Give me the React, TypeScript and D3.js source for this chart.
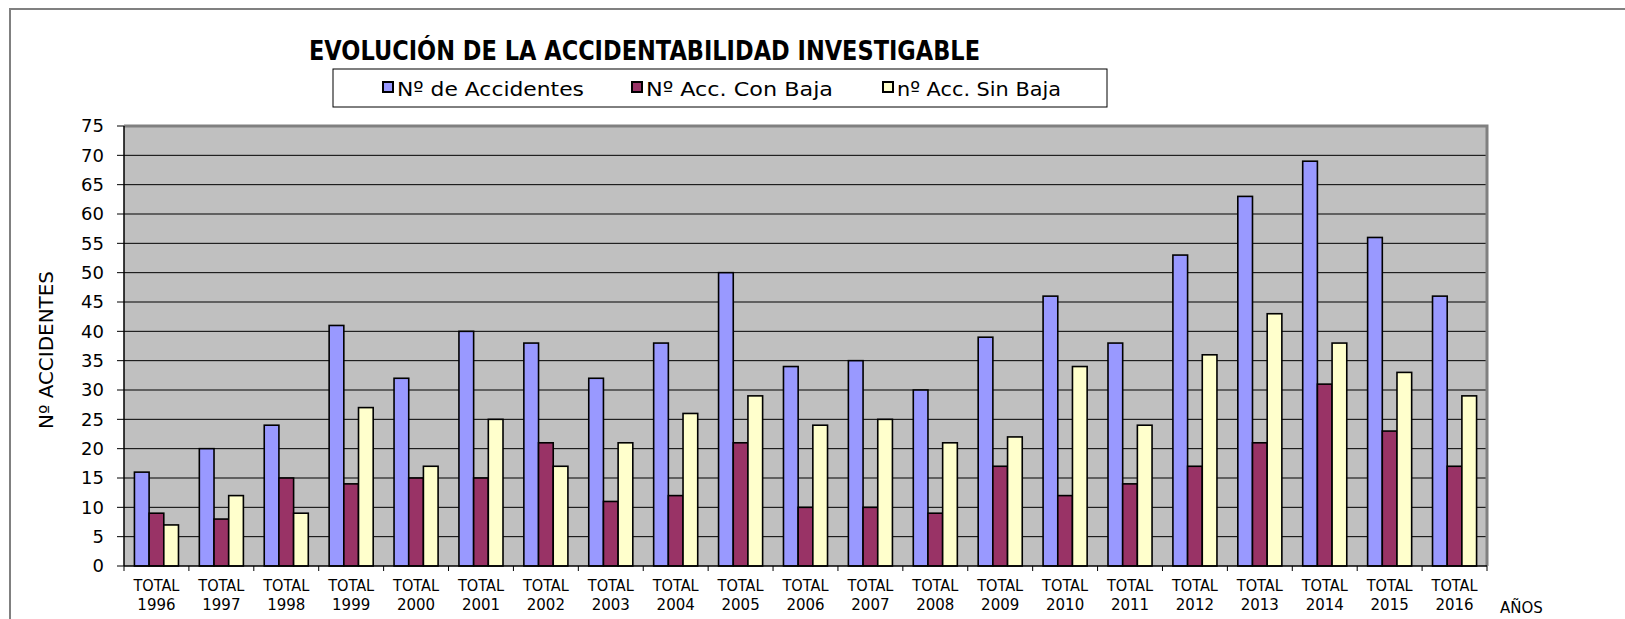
import { scaleBand, scaleLinear, range } from "d3";

const W = 1625;
const H = 619;

const years = ["1996", "1997", "1998", "1999", "2000", "2001", "2002", "2003", "2004", "2005", "2006", "2007", "2008", "2009", "2010", "2011", "2012", "2013", "2014", "2015", "2016"];
const accidentes = [16, 20, 24, 41, 32, 40, 38, 32, 38, 50, 34, 35, 30, 39, 46, 38, 53, 63, 69, 56, 46];
const conBaja = [9, 8, 15, 14, 15, 15, 21, 11, 12, 21, 10, 10, 9, 17, 12, 14, 17, 21, 31, 23, 17];
const sinBaja = [7, 12, 9, 27, 17, 25, 17, 21, 26, 29, 24, 25, 21, 22, 34, 24, 36, 43, 38, 33, 29];

const seriesNames = ["Nº de Accidentes", "Nº Acc. Con Baja", "nº Acc. Sin Baja"];
const seriesColors = ["#9999FF", "#993366", "#FFFFCC"];
const yTicks = range(0, 80, 5);

const PLOT = { left: 124, right: 1487, top: 126, bottom: 566 };
const FONT = "'DejaVu Sans', Lato, sans-serif";

export default function App() {
  const series = [accidentes, conBaja, sinBaja];

  const xScale = scaleBand<string>().domain(years).range([PLOT.left, PLOT.right]).padding(0);
  const inner = scaleBand<number>()
    .domain([0, 1, 2])
    .range([0, xScale.bandwidth()])
    .paddingInner(0)
    .paddingOuter(0.71);
  const yScale = scaleLinear().domain([0, 75]).range([PLOT.bottom, PLOT.top]);

  const legendX = [388, 637, 888];
  const legendLen = [187, 187, 164];

  return (
    <svg
      width={W}
      height={H}
      viewBox={`0 0 ${W} ${H}`}
      style={{ position: "absolute", left: 0, top: 0, background: "#fff" }}
      fontFamily={FONT}
    >
      {/* outer chart frame */}
      <rect x={10} y={9} width={W + 20} height={H + 20} fill="#fff" stroke="#808080" strokeWidth={2} />

      <text x={309} y={60} fontSize={26} fontWeight={700} textLength={671} lengthAdjust="spacingAndGlyphs" fill="#000">
        EVOLUCIÓN DE LA ACCIDENTABILIDAD INVESTIGABLE
      </text>

      {/* legend */}
      <rect x={333} y={69} width={774} height={38} fill="#fff" stroke="#000" strokeWidth={1} />
      {seriesNames.map((name, i) => (
        <g key={name}>
          <rect x={legendX[i] - 5} y={82} width={10} height={10} fill={seriesColors[i]} stroke="#000" strokeWidth={2} />
          <text
            x={legendX[i] + 9}
            y={96}
            fontSize={20}
            textLength={legendLen[i]}
            lengthAdjust="spacingAndGlyphs"
            fill="#000"
          >
            {name}
          </text>
        </g>
      ))}

      {/* plot background */}
      <rect x={PLOT.left} y={PLOT.top} width={PLOT.right - PLOT.left} height={PLOT.bottom - PLOT.top} fill="#C0C0C0" />

      {yTicks.map((t) => (
        <g key={t}>
          {t > 0 && t < 75 && (
            <line x1={PLOT.left} x2={PLOT.right} y1={yScale(t)} y2={yScale(t)} stroke="#000" strokeWidth={1} />
          )}
          <line x1={PLOT.left - 7} x2={PLOT.left} y1={yScale(t)} y2={yScale(t)} stroke="#000" strokeWidth={1} />
          <text x={104} y={yScale(t)} dy="0.36em" textAnchor="end" fontSize={18} fill="#000">
            {t}
          </text>
        </g>
      ))}

      {/* plot frame top & right */}
      <polyline
        points={`${PLOT.left},${PLOT.top} ${PLOT.right},${PLOT.top} ${PLOT.right},${PLOT.bottom}`}
        fill="none"
        stroke="#808080"
        strokeWidth={3}
      />

      {/* bars */}
      {years.map((yr, i) => (
        <g key={yr} transform={`translate(${xScale(yr)},0)`}>
          {series.map((s, k) => (
            <rect
              key={k}
              x={inner(k)}
              y={yScale(s[i])}
              width={inner.bandwidth()}
              height={yScale(0) - yScale(s[i])}
              fill={seriesColors[k]}
              stroke="#000"
              strokeWidth={1.6}
            />
          ))}
        </g>
      ))}

      {/* axes */}
      <line x1={PLOT.left} x2={PLOT.left} y1={PLOT.top} y2={PLOT.bottom} stroke="#000" strokeWidth={1.5} />
      <line x1={PLOT.left} x2={PLOT.right} y1={PLOT.bottom} y2={PLOT.bottom} stroke="#000" strokeWidth={1.5} />
      {years.concat(["end"]).map((yr, i) => {
        const x = i < years.length ? (xScale(yr) as number) : PLOT.right;
        return <line key={yr} x1={x} x2={x} y1={PLOT.bottom} y2={PLOT.bottom + 5} stroke="#000" strokeWidth={1} />;
      })}
      {years.map((yr) => {
        const cx = (xScale(yr) as number) + xScale.bandwidth() / 2;
        return (
          <text key={yr} x={cx} textAnchor="middle" fontSize={15} fill="#000">
            <tspan x={cx} y={591} textLength={46} lengthAdjust="spacingAndGlyphs">TOTAL</tspan>
            <tspan x={cx} y={610}>{yr}</tspan>
          </text>
        );
      })}

      <text x={1500} y={613} fontSize={15} fill="#000">AÑOS</text>

      <text
        transform={`translate(53,${(PLOT.top + PLOT.bottom) / 2 + 4}) rotate(-90)`}
        textAnchor="middle"
        fontSize={19}
        textLength={158}
        lengthAdjust="spacingAndGlyphs"
        fill="#000"
      >
        Nº ACCIDENTES
      </text>
    </svg>
  );
}
